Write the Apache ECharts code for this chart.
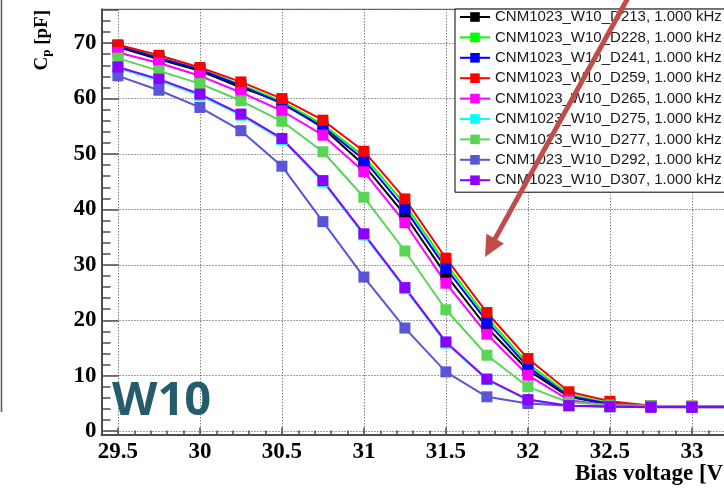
<!DOCTYPE html>
<html>
<head>
<meta charset="utf-8">
<script src="https://cdn.jsdelivr.net/npm/echarts@6/dist/echarts.min.js"></script>
<style>html,body{margin:0;padding:0;background:#fff}#chart{width:724px;height:488px}</style>
</head>
<body>
<div id="chart"></div>
<script>
// Bias voltage points [V]
const biasVoltage = [29.5, 29.75, 30, 30.25, 30.5, 30.75, 31, 31.25, 31.5, 31.75, 32, 32.25, 32.5, 32.75, 33, 33.25];
// Cp [pF] per device
const D213 = [69.3, 67.1, 65.0, 62.0, 59.4, 54.7, 48.0, 39.0, 28.2, 18.7, 11.0, 6.2, 4.8, 4.5, 4.4, 4.4];
const D228 = [69.6, 67.4, 65.3, 62.5, 59.5, 55.3, 49.6, 40.9, 30.2, 20.5, 12.2, 6.6, 5.0, 4.6, 4.5, 4.4];
const D241 = [69.5, 67.3, 65.2, 62.3, 59.1, 54.9, 49.0, 40.1, 29.4, 19.8, 11.6, 6.3, 4.9, 4.5, 4.4, 4.4];
const D259 = [69.7, 67.8, 65.6, 63.0, 60.0, 56.1, 50.5, 41.9, 31.2, 21.4, 13.1, 7.1, 5.4, 4.6, 4.5, 4.5];
const D265 = [68.3, 66.4, 64.1, 61.1, 57.8, 53.4, 46.8, 37.6, 26.7, 17.5, 10.1, 5.6, 4.7, 4.5, 4.4, 4.4];
const D275 = [65.5, 63.3, 60.6, 57.0, 52.6, 45.0, 35.4, 25.7, 15.9, 9.3, 5.6, 4.6, 4.4, 4.4, 4.3, 4.3];
const D277 = [67.3, 65.0, 62.7, 59.6, 55.9, 50.4, 42.2, 32.5, 21.9, 13.7, 8.0, 5.2, 4.7, 4.6, 4.5, 4.5];
const D292 = [64.1, 61.5, 58.4, 54.2, 47.8, 37.8, 27.8, 18.6, 10.7, 6.2, 5.0, 4.6, 4.5, 4.4, 4.4, 4.4];
const D307 = [65.7, 63.5, 60.8, 57.2, 52.8, 45.2, 35.6, 25.9, 16.1, 9.4, 5.7, 4.6, 4.4, 4.3, 4.3, 4.3];

const seriesNames = [
  'CNM1023_W10_D213, 1.000 kHz', 'CNM1023_W10_D228, 1.000 kHz', 'CNM1023_W10_D241, 1.000 kHz',
  'CNM1023_W10_D259, 1.000 kHz', 'CNM1023_W10_D265, 1.000 kHz', 'CNM1023_W10_D275, 1.000 kHz',
  'CNM1023_W10_D277, 1.000 kHz', 'CNM1023_W10_D292, 1.000 kHz', 'CNM1023_W10_D307, 1.000 kHz'
];
const seriesValues = [D213, D228, D241, D259, D265, D275, D277, D292, D307];
const seriesColors = ['#000000', '#00ff00', '#0000ff', '#ff0000', '#ff00ff', '#00ffff', '#59d454', '#5954d8', '#8c00ff'];

const xTitle = 'Bias voltage [V]';
const waferLabel = 'W10';

const chart = echarts.init(document.getElementById('chart'), null, {renderer: 'canvas'});
const serif = '"Liberation Serif", "Times New Roman", serif';
const gridColor = '#444';

const series = seriesValues.map((vals, i) => ({
  name: seriesNames[i],
  type: 'line',
  data: vals.map((v, j) => [biasVoltage[j], v]),
  symbol: 'rect',
  symbolSize: 11,
  showSymbol: true,
  clip: true,
  lineStyle: {color: seriesColors[i], width: 2},
  itemStyle: {color: seriesColors[i]},
  emphasis: {disabled: true},
  animation: false
}));

// arrow geometry
const tip = [485, 257], start = [629, -4];
const dx = tip[0] - start[0], dy = tip[1] - start[1];
const L = Math.hypot(dx, dy), ux = dx / L, uy = dy / L;
const hl = 21, hw = 10;
const bx = tip[0] - hl * ux, by = tip[1] - hl * uy;

chart.setOption({
  backgroundColor: '#ffffff',
  animation: false,
  grid: {
    left: 101.5, top: 9.3, right: -33.5, bottom: 53.5,
    outerBoundsMode: 'none', containLabel: false,
    show: true, borderColor: '#555', borderWidth: 1, backgroundColor: 'transparent'
  },
  xAxis: {
    type: 'value', min: 29.4, max: 33.4, splitNumber: 8,
    axisLine: {show: true, onZero: false, lineStyle: {color: '#4d4d4d', width: 2}},
    axisTick: {show: true, inside: true, length: 7, lineStyle: {color: '#4d4d4d', width: 1.5}},
    minorTick: {show: true, splitNumber: 5, length: 4, lineStyle: {color: '#4d4d4d', width: 1.5}},
    axisLabel: {
      show: true, showMinLabel: false, showMaxLabel: false, margin: 6,
      color: '#000', fontFamily: serif, fontWeight: 'bold', fontSize: 23,
      formatter: v => String(v)
    },
    splitLine: {show: true, lineStyle: {color: gridColor, width: 1, type: [1, 2]}}
  },
  yAxis: {
    type: 'value', min: -0.6, max: 76.1, splitNumber: 8,
    axisLine: {show: true, onZero: false, lineStyle: {color: '#4d4d4d', width: 2}},
    axisTick: {show: true, inside: true, length: 17, lineStyle: {color: '#4d4d4d', width: 1.5}},
    minorTick: {show: true, splitNumber: 5, length: 9, lineStyle: {color: '#4d4d4d', width: 1.5}},
    axisLabel: {
      show: true, showMinLabel: false, showMaxLabel: false, margin: 5,
      color: '#000', fontFamily: serif, fontWeight: 'bold', fontSize: 23
    },
    splitLine: {show: true, lineStyle: {color: gridColor, width: 1, type: [1, 2]}}
  },
  legend: {
    show: true, orient: 'vertical', left: 455, top: 9,
    padding: [0, 6, 4, 4],
    backgroundColor: '#fff', borderColor: '#000', borderWidth: 1, borderRadius: 0,
    itemWidth: 30, itemHeight: 12, itemGap: 4.4,
    textStyle: {color: '#1a1a1a', fontFamily: '"Liberation Sans", Arial, sans-serif', fontSize: 15, lineHeight: 16},
    selectedMode: false,
    data: seriesNames.map(n => ({name: n}))
  },
  graphic: [
    {
      type: 'text', x: 42, y: 10, rotation: Math.PI / 2, z: 100,
      style: {
        text: '{c|C}{s|p}{c| [pF]}', align: 'right', verticalAlign: 'middle',
        rich: {
          c: {fontFamily: serif, fontWeight: 'bold', fontSize: 19, fill: '#000'},
          s: {fontFamily: serif, fontWeight: 'bold', fontSize: 13, fill: '#000', padding: [9, 0, 0, 0]}
        }
      }
    },
    {
      type: 'text', x: 575, y: 474, z: 100,
      style: {text: xTitle, fontFamily: serif, fontWeight: 'bold', fontSize: 23, fill: '#000', align: 'left', verticalAlign: 'middle'}
    },
    {
      type: 'text', x: 112, y: 402, z: 100,
      style: {text: waferLabel, fontFamily: '"Open Sans", sans-serif', fontWeight: 'bold', fontSize: 47, fill: '#245c6b', align: 'left', verticalAlign: 'middle'}
    },
    {
      type: 'line', z: 120,
      shape: {x1: start[0], y1: start[1], x2: bx + 2 * ux, y2: by + 2 * uy},
      style: {stroke: '#bf4c49', lineWidth: 5}
    },
    {
      type: 'polygon', z: 120,
      shape: {points: [tip, [bx - hw * uy, by + hw * ux], [bx + hw * uy, by - hw * ux]]},
      style: {fill: '#bf4c49'}
    },
    {
      type: 'line', z: 1,
      shape: {x1: 1.5, y1: 0, x2: 1.5, y2: 412},
      style: {stroke: '#555', lineWidth: 1.5}
    }
  ],
  series: series
});
</script>
</body>
</html>
